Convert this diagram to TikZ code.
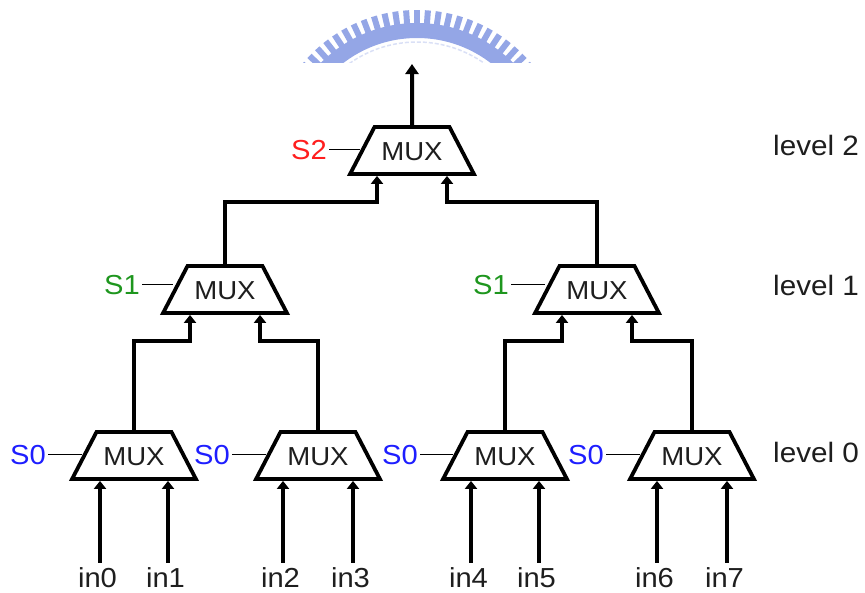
\documentclass[tikz,border=0pt]{standalone}
\usepackage{fontspec}
\setmainfont{Liberation Sans}[FakeStretch=1.06]
\usetikzlibrary{shapes.geometric,arrows.meta,calc}

\definecolor{selred}{RGB}{255,30,30}
\definecolor{selgreen}{RGB}{30,150,30}
\definecolor{selblue}{RGB}{30,30,255}
\definecolor{ink}{RGB}{30,30,30}
\definecolor{crest}{RGB}{148,166,230}

\tikzset{
  mux/.style={trapezium, trapezium stretches=true,
    trapezium left angle=67, trapezium right angle=67,
    text height=19pt, text depth=0pt, inner ysep=14pt, inner xsep=0pt,
    minimum width=124pt, minimum height=47pt,
    draw=black, line width=3.8pt, fill=white, text=ink,
    font=\fontsize{26}{28}\selectfont},
  wire/.style={line width=4pt, draw=black},
  feed/.style={wire, -{Triangle[width=12pt,length=8pt]}},
  selwire/.style={line width=1.8pt, draw=black},
  lbl/.style={text=ink, inner sep=0pt, font=\fontsize{27.5}{30}\selectfont},
  sel/.style={lbl, anchor=base east},
  inlbl/.style={lbl, anchor=base},
  levtxt/.style={lbl, anchor=base west, font=\fontsize{28}{30}\selectfont},
}

\begin{document}
\begin{tikzpicture}[x=1pt,y=-1pt]
\useasboundingbox (0,0) rectangle (865,592);

% crest band with teeth, cut off along the top strip
\begin{scope}
  \clip (0,0) rectangle (865,62);
  \coordinate (crest) at (417,159);
  \fill[crest, even odd rule] (crest) circle[radius=136pt] (crest) circle[radius=121pt];
  \foreach \k in {-14,...,14}
    \draw[crest, line width=6pt] ($(crest)+({90+4.2*\k}:134pt)$) -- ($(crest)+({90+4.2*\k}:149pt)$);
  \draw[crest!35, line width=1.5pt, dash pattern=on 4pt off 2pt] (crest) circle[radius=117pt];
\end{scope}

% multiplexers
\node[mux] (m2)  at (412,150.5) {MUX};
\node[mux] (m10) at (225,289.5) {MUX};
\node[mux] (m11) at (597,289.5) {MUX};
\node[mux] (m00) at (134,455.5) {MUX};
\node[mux] (m01) at (318,455.5) {MUX};
\node[mux] (m02) at (505,455.5) {MUX};
\node[mux] (m03) at (692,455.5) {MUX};

% output
\coordinate (out) at (412,64);
\draw[wire, -{Triangle[width=13pt,length=10pt]}] (m2.north) -- (out);

% level 1 -> level 2
\draw[feed] (m10.north) |- ($(m2.south)+(-35,26)$) -- ($(m2.south)+(-35,0)$);
\draw[feed] (m11.north) |- ($(m2.south)+(35,26)$) -- ($(m2.south)+(35,0)$);

% level 0 -> level 1
\draw[feed] (m00.north) |- ($(m10.south)+(-35,26)$) -- ($(m10.south)+(-35,0)$);
\draw[feed] (m01.north) |- ($(m10.south)+(35,26)$) -- ($(m10.south)+(35,0)$);
\draw[feed] (m02.north) |- ($(m11.south)+(-35,26)$) -- ($(m11.south)+(-35,0)$);
\draw[feed] (m03.north) |- ($(m11.south)+(35,26)$) -- ($(m11.south)+(35,0)$);

% inputs
\foreach \i/\m/\dx in {0/m00/-34, 1/m00/34, 2/m01/-35, 3/m01/35,
                       4/m02/-34, 5/m02/34, 6/m03/-35, 7/m03/35} {
  \path ($(\m.south)+(\dx-2.5,0)$) coordinate (p\i);
  \node[inlbl] (in\i) at (p\i |- 0,587) {in\i};
  \draw[feed] ($(in\i.north)+(2.5,-4)$) -- ($(\m.south)+(\dx,0)$);
}

% select signals
\node[sel, text=selred]   (s2)  at (327,159) {S2};
\node[sel, text=selgreen] (s10) at (140,294) {S1};
\node[sel, text=selgreen] (s11) at (509,294) {S1};
\node[sel, text=selblue]  (s00) at (46,464)  {S0};
\node[sel, text=selblue]  (s01) at (230,464) {S0};
\node[sel, text=selblue]  (s02) at (418,464) {S0};
\node[sel, text=selblue]  (s03) at (604,464) {S0};
\foreach \s/\m in {s2/m2, s10/m10, s11/m11, s00/m00, s01/m01, s02/m02, s03/m03}
  \draw[selwire] ([xshift=2pt]\s.east) -- (\s.east -| \m.left side);

% level captions
\node[levtxt] (lv2) at (773,155) {level 2};
\node[levtxt] (lv1) at (773,295) {level 1};
\node[levtxt] (lv0) at (773,462) {level 0};
\end{tikzpicture}
\end{document}
